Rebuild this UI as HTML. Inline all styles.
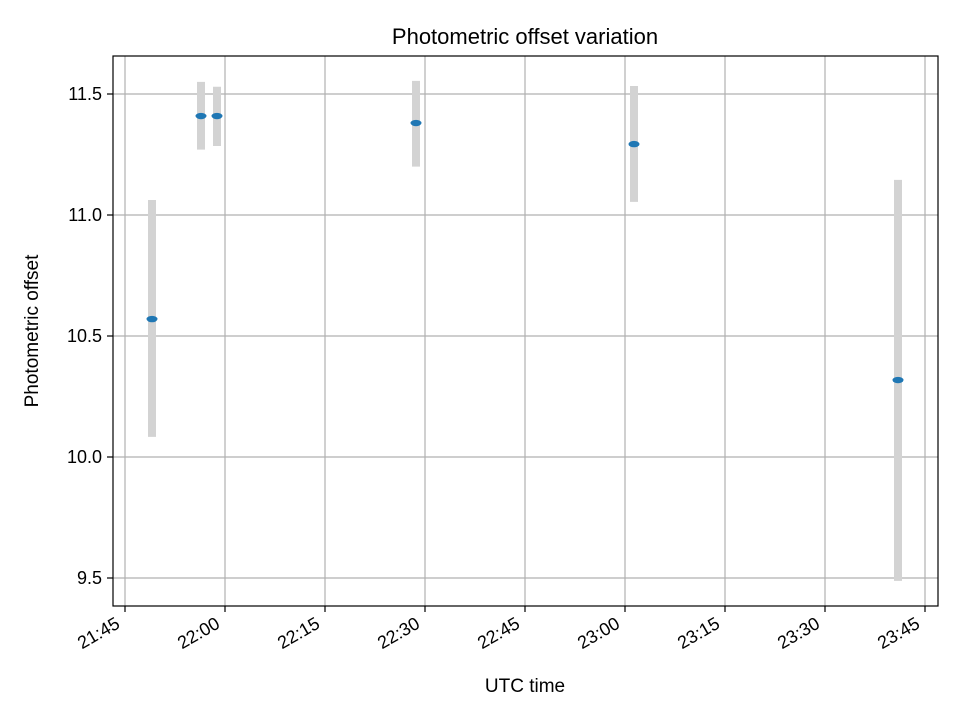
<!DOCTYPE html>
<html><head><meta charset="utf-8"><style>
body{margin:0;background:#fff;}
svg text{font-family:"Liberation Sans","DejaVu Sans",sans-serif;fill:#000;}
</style></head><body>
<svg id="chart" width="960" height="720" xmlns="http://www.w3.org/2000/svg">
<rect width="960" height="720" fill="#fff"/>
<g id="grid"></g>
<g id="bars"></g>
<g id="pts"></g>
<rect x="113" y="56" width="825" height="550" fill="none" stroke="#000" stroke-width="1.2"/>
<g id="axes"></g>
<text x="525" y="44" font-size="22" text-anchor="middle">Photometric offset variation</text>
<text x="525" y="692" font-size="19" text-anchor="middle">UTC time</text>
<text transform="translate(38,331) rotate(-90)" font-size="19" text-anchor="middle">Photometric offset</text>
</svg>
<script>
const times = [4.05, 11.4, 13.8, 43.65, 76.35, 115.95]; // minutes after 21:45
const values = [10.570, 11.409, 11.409, 11.38, 11.293, 10.318];
const errLow = [10.083, 11.27, 11.285, 11.20, 11.054, 9.488];
const errHigh = [11.062, 11.55, 11.53, 11.554, 11.533, 11.145];
const xTicks = [0, 15, 30, 45, 60, 75, 90, 105, 120];
const xTickLabels = ["21:45","22:00","22:15","22:30","22:45","23:00","23:15","23:30","23:45"];
const yTicks = [9.5, 10.0, 10.5, 11.0, 11.5];
const yTickLabels = ["9.5","10.0","10.5","11.0","11.5"];

const NS="http://www.w3.org/2000/svg";
const X = m => 125 + m * (100/15);
const Y = v => 457 - (v - 10.0) * 242;
function mk(tag, attrs, parent, name){
  const e=document.createElementNS(NS,tag);
  for(const k in attrs) e.setAttribute(k,attrs[k]);
  
  
  document.getElementById(parent).appendChild(e);
  return e;
}
xTicks.forEach((t,i)=>{
  const x=X(t);
  mk('line',{x1:x,x2:x,y1:56,y2:606,stroke:'#b0b0b0','stroke-width':1.2},'grid','x-gridline');
  mk('line',{x1:x,x2:x,y1:606,y2:612,stroke:'#000','stroke-width':1.2},'axes','x-tick');
  const ax=x-4, ay=627;
  const tx=mk('text',{x:ax,y:ay,'font-size':18,'text-anchor':'end',transform:`rotate(-30 ${ax} ${ay})`},'axes','x-tick-label');
  tx.textContent=xTickLabels[i];
});
yTicks.forEach((t,i)=>{
  const y=Y(t);
  mk('line',{x1:113,x2:938,y1:y,y2:y,stroke:'#b0b0b0','stroke-width':1.2},'grid','y-gridline');
  mk('line',{x1:107,x2:113,y1:y,y2:y,stroke:'#000','stroke-width':1.2},'axes','y-tick');
  const tx=mk('text',{x:102,y:y+6,'font-size':18,'text-anchor':'end'},'axes','y-tick-label');
  tx.textContent=yTickLabels[i];
});
times.forEach((t,i)=>{
  const x=X(t);
  mk('line',{x1:x,x2:x,y1:Y(errHigh[i]),y2:Y(errLow[i]),stroke:'#d3d3d3','stroke-width':8},'bars','error-bar');
  mk('ellipse',{cx:x,cy:Y(values[i]),rx:5.5,ry:3.2,fill:'#1f77b4'},'pts','data-point');
});
</script>
</body></html>
